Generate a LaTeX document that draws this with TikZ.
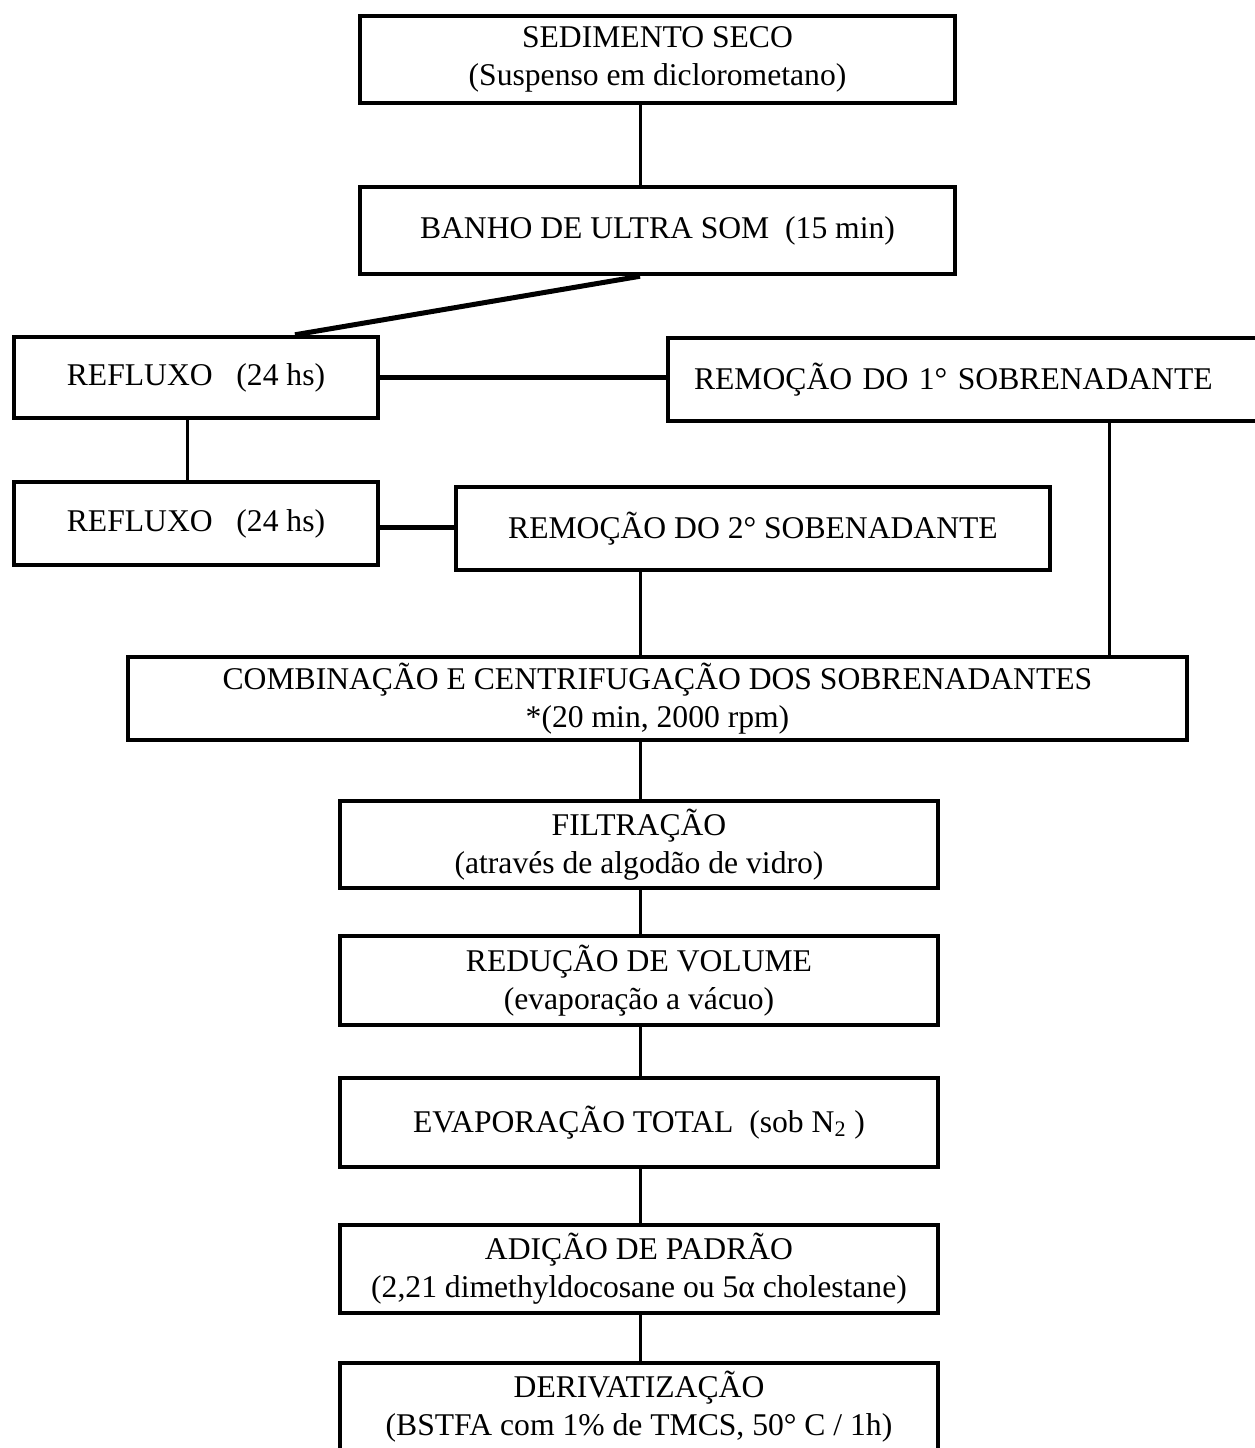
\documentclass[tikz,border=0pt]{standalone}
\usepackage{fontspec}
\setmainfont{Liberation Serif}
\usetikzlibrary{calc}
\tikzset{
    stepbox/.style={draw=black,line width=0.09cm,fill=white,align=center,inner sep=0pt},
    link/.style={black,line width=0.06cm},
    heavylink/.style={black,line width=0.1cm}
}

\begin{document}
\begin{tikzpicture}[x=0.02cm,y=-0.02cm,font=\fontsize{18}{21.5}\selectfont]
\useasboundingbox (0,0) rectangle (1255,1448);
\clip (0,0) rectangle (1255,1448);
\coordinate (axis) at (640,0);
\coordinate (drop) at (1109,0);

% extraction
\node[stepbox,minimum width=11.9cm,minimum height=1.74cm] (sed) at (657.5,59.5) {SEDIMENTO SECO\\(Suspenso em diclorometano)};
\node[stepbox,minimum width=11.9cm,minimum height=1.74cm] (banho) at (657.5,230.5) {BANHO DE ULTRA SOM\ \ (15 min)};
\node[stepbox,minimum width=7.28cm,minimum height=1.62cm] (ref1) at (196,377.5) {REFLUXO\ \ \ (24 hs)};
\node[stepbox,minimum width=11.94cm,minimum height=1.66cm,text width=10.9cm,align=left,inner xsep=0.52cm] (rem1) at (966.5,379.5) {REMOÇÃO DO 1° SOBRENADANTE};
\node[stepbox,minimum width=7.28cm,minimum height=1.66cm] (ref2) at (196,523.5) {REFLUXO\ \ \ (24 hs)};
\node[stepbox,minimum width=11.88cm,minimum height=1.66cm] (rem2) at (753,528.5) {REMOÇÃO DO 2° SOBENADANTE};
\node[stepbox,minimum width=21.18cm,minimum height=1.66cm] (comb) at (657.5,698.5) {COMBINAÇÃO E CENTRIFUGAÇÃO DOS SOBRENADANTES\\*(20 min, 2000 rpm)};

% clean-up and derivatization
\node[stepbox,minimum width=11.96cm,minimum height=1.74cm] (filt) at (639,844.5) {FILTRAÇÃO\\(através de algodão de vidro)};
\node[stepbox,minimum width=11.96cm,minimum height=1.78cm] (red) at (639,980.5) {REDUÇÃO DE VOLUME\\(evaporação a vácuo)};
\node[stepbox,minimum width=11.96cm,minimum height=1.78cm] (evap) at (639,1122.5) {EVAPORAÇÃO TOTAL\ \ (sob N\textsubscript{2} )};
\node[stepbox,minimum width=11.96cm,minimum height=1.76cm] (adic) at (639,1269) {ADIÇÃO DE PADRÃO\\(2,21 dimethyldocosane ou 5α cholestane)};
\node[stepbox,minimum width=11.96cm,minimum height=1.74cm] (deriv) at (639,1406.5) {DERIVATIZAÇÃO\\(BSTFA com 1\% de TMCS, 50° C / 1h)};

\draw[link] (sed.south -| axis)--(banho.north -| axis);
\draw[heavylink] (banho.south -| axis)--($(ref1.north)+(99,0)$);
\draw[heavylink] (ref1.east)--(ref1.east -| rem1.west);
\draw[link] ($(ref1.south)+(-9,0)$)--($(ref2.north)+(-9,0)$);
\draw[heavylink] ($(ref2.east)+(0,4)$)--($(ref2.east -| rem2.west)+(0,4)$);
\draw[link] (rem2.south -| axis)--(comb.north -| axis);
\draw[link] (rem1.south -| drop)--(comb.north -| drop);

\draw[link] (comb.south -| axis)--(filt.north -| axis);
\draw[link] (filt.south -| axis)--(red.north -| axis);
\draw[link] (red.south -| axis)--(evap.north -| axis);
\draw[link] (evap.south -| axis)--(adic.north -| axis);
\draw[link] (adic.south -| axis)--(deriv.north -| axis);

\end{tikzpicture}
\end{document}
